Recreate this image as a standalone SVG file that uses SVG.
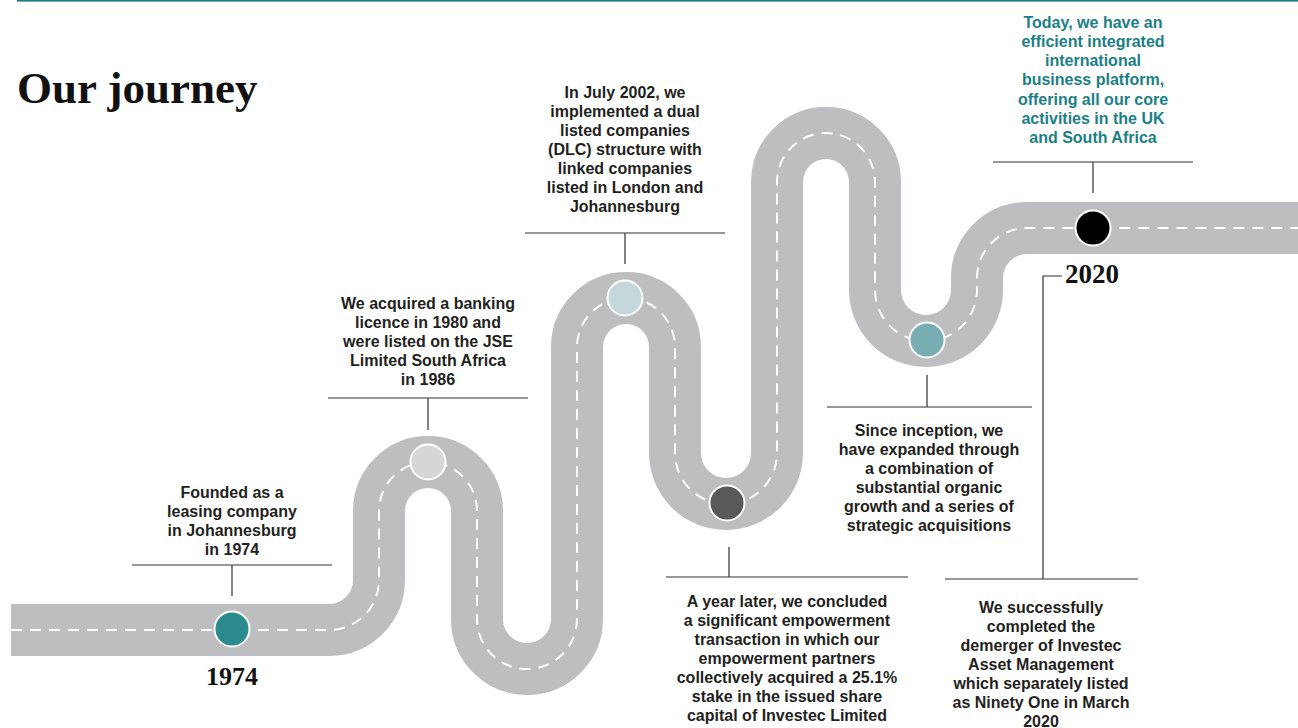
<svg xmlns="http://www.w3.org/2000/svg" width="1298" height="728" viewBox="0 0 1298 728">
<style>
.road{fill:none;stroke:#bdbec0;stroke-width:52;stroke-linecap:butt;stroke-linejoin:round}
.lane{fill:none;stroke:#ffffff;stroke-width:2;stroke-dasharray:11 8}
.dot{stroke:#ffffff;stroke-width:2}
.call{fill:none;stroke:#333333;stroke-width:1.2}
.txt{font-family:"Liberation Sans",Arial,sans-serif;font-weight:bold;font-size:16px;fill:#231f20;text-anchor:middle}
.teal{fill:#1b7f86}
.year{font-family:"Liberation Serif","Times New Roman",serif;font-weight:bold;font-size:26px;fill:#111111}
.title{font-family:"Liberation Serif","Times New Roman",serif;font-weight:bold;font-size:45px;fill:#111111}
</style>
<rect x="17" y="0" width="1281" height="1.6" fill="#1b7f86"/>
<text class="title" x="17" y="103">Our journey</text>
<g id="road">
<path id="roadpath" class="road" d="M11 630 H330 A50 50 0 0 0 379 580 V511 A49 49 0 0 1 477 511 V619 A50 50 0 0 0 577 619 V347 A49 49 0 0 1 675 347 V453 A51 51 0 0 0 777 453 V182 A49 49 0 0 1 875 182 V290 A51 51 0 0 0 977 290 V278 A50 50 0 0 1 1027 228 H1298"/>
<path class="lane" d="M11 630 H330 A50 50 0 0 0 379 580 V511 A49 49 0 0 1 477 511 V619 A50 50 0 0 0 577 619 V347 A49 49 0 0 1 675 347 V453 A51 51 0 0 0 777 453 V182 A49 49 0 0 1 875 182 V290 A51 51 0 0 0 977 290 V278 A50 50 0 0 1 1027 228 H1298"/>
</g>
<g id="connectors">
<path class="call" d="M132 565 H332 M232 565 V596"/>
<path class="call" d="M328 398 H528 M428 398 V430"/>
<path class="call" d="M525 233 H725 M625 233 V264"/>
<path class="call" d="M666 577 H908 M729 547 V577"/>
<path class="call" d="M827 407 H1032 M927 375 V407"/>
<path class="call" d="M993 162 H1193 M1093 162 V193"/>
<path class="call" d="M1062 276 H1043 V579 M945 579 H1138"/>
</g>
<g id="n1974">
<circle class="dot" cx="232" cy="629" r="17.5" fill="#2b8a8e"/>
<text class="year" x="232" y="685" text-anchor="middle">1974</text>
<text class="txt"><tspan x="232" y="498">Founded as a</tspan><tspan x="232" y="517">leasing company</tspan><tspan x="232" y="536">in Johannesburg</tspan><tspan x="232" y="555">in 1974</tspan></text>
</g>
<g id="n1980">
<circle class="dot" cx="428" cy="462" r="17.5" fill="#d5d6d8"/>
<text class="txt"><tspan x="428" y="309">We acquired a banking</tspan><tspan x="428" y="328">licence in 1980 and</tspan><tspan x="428" y="347">were listed on the JSE</tspan><tspan x="428" y="366">Limited South Africa</tspan><tspan x="428" y="385">in 1986</tspan></text>
</g>
<g id="n2002">
<circle class="dot" cx="625" cy="298" r="17.5" fill="#c4d8dc"/>
<text class="txt"><tspan x="625" y="98">In July 2002, we</tspan><tspan x="625" y="117">implemented a dual</tspan><tspan x="625" y="136">listed companies</tspan><tspan x="625" y="155">(DLC) structure with</tspan><tspan x="625" y="174">linked companies</tspan><tspan x="625" y="193">listed in London and</tspan><tspan x="625" y="212">Johannesburg</tspan></text>
</g>
<g id="n2003">
<circle class="dot" cx="727" cy="503" r="17.5" fill="#58595b"/>
<text class="txt"><tspan x="787" y="607">A year later, we concluded</tspan><tspan x="787" y="626">a significant empowerment</tspan><tspan x="787" y="645">transaction in which our</tspan><tspan x="787" y="664">empowerment partners</tspan><tspan x="787" y="683">collectively acquired a 25.1%</tspan><tspan x="787" y="702">stake in the issued share</tspan><tspan x="787" y="721">capital of Investec Limited</tspan></text>
</g>
<g id="ngrowth">
<circle class="dot" cx="927" cy="340" r="17.5" fill="#78aeb3"/>
<text class="txt"><tspan x="929" y="436">Since inception, we</tspan><tspan x="929" y="455">have expanded through</tspan><tspan x="929" y="474">a combination of</tspan><tspan x="929" y="493">substantial organic</tspan><tspan x="929" y="512">growth and a series of</tspan><tspan x="929" y="531">strategic acquisitions</tspan></text>
</g>
<g id="n2020">
<circle class="dot" cx="1093" cy="228" r="17.5" fill="#000000"/>
<text class="year" x="1065" y="283" style="font-size:27px">2020</text>
<text class="txt teal"><tspan x="1093" y="28">Today, we have an</tspan><tspan x="1093" y="47">efficient integrated</tspan><tspan x="1093" y="66">international</tspan><tspan x="1093" y="85">business platform,</tspan><tspan x="1093" y="105">offering all our core</tspan><tspan x="1093" y="124">activities in the UK</tspan><tspan x="1093" y="143">and South Africa</tspan></text>
</g>
<g id="ndemerger">
<text class="txt"><tspan x="1041" y="613">We successfully</tspan><tspan x="1041" y="632">completed the</tspan><tspan x="1041" y="651">demerger of Investec</tspan><tspan x="1041" y="670">Asset Management</tspan><tspan x="1041" y="689">which separately listed</tspan><tspan x="1041" y="708">as Ninety One in March</tspan><tspan x="1041" y="727">2020</tspan></text>
</g>
</svg>
